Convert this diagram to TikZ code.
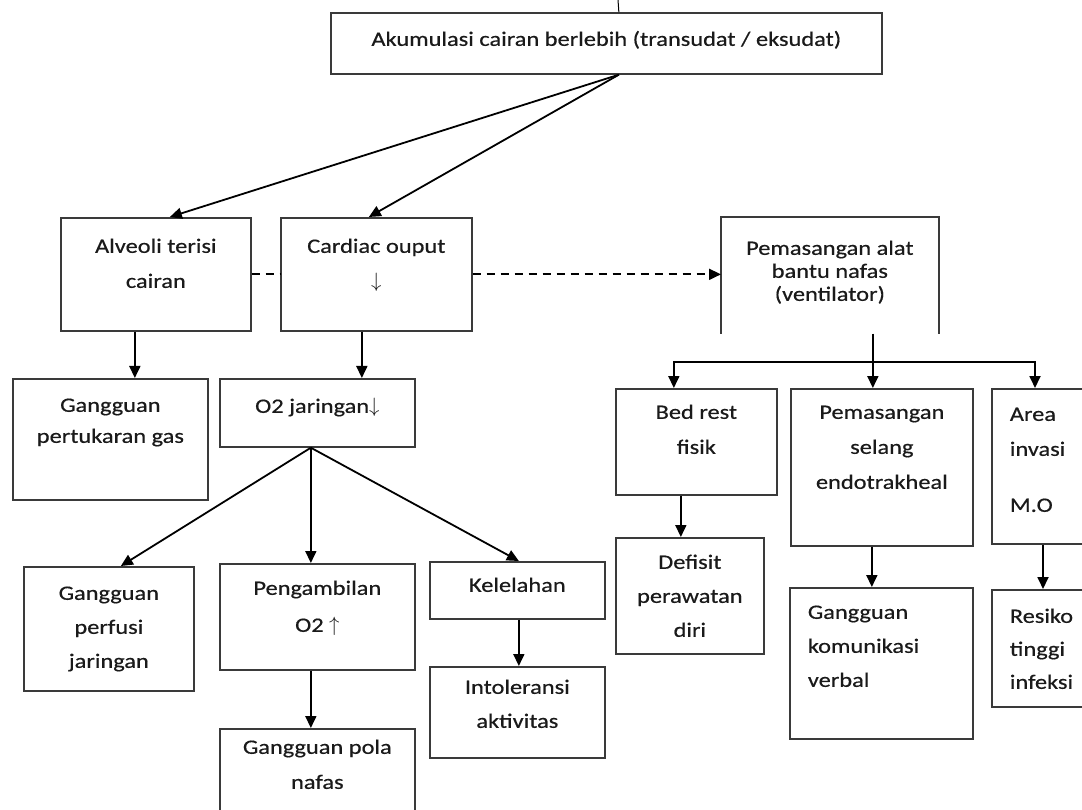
\documentclass[tikz,border=0pt]{standalone}
\usepackage{fontspec}
\setmainfont{Carlito}[FakeStretch=1.19,FakeBold=0.5]
\usetikzlibrary{arrows.meta}
\definecolor{garis}{HTML}{3A3A3A}
\definecolor{teks}{HTML}{1A1A1A}
\begin{document}
\begin{tikzpicture}[x=1pt,y=-1pt,
  kotak/.style={draw=garis,line width=1.7pt,inner sep=0pt,anchor=north west,
    align=center,text=teks,font=\fontsize{20.5}{35}\selectfont},
  kiri/.style={align=left,inner xsep=18pt},
  panah/.style={-{Triangle[length=12pt,width=11pt]},line width=1.8pt},
  putus/.style={line width=1.8pt,dash pattern=on 8pt off 6pt}]
\useasboundingbox (0,0) rectangle (1082,810);
\clip (0,0) rectangle (1082,810);

% Drawing box Akumulasi
\node [kotak,minimum width=551,text height=33,text depth=28] (akumulasi) at (330,12)
  {Akumulasi cairan berlebih (transudat / eksudat)};%
\coordinate (atas) at (618,0);
\draw [line width=1pt] ([xshift=12.5]akumulasi.north) -- (atas);%

% Drawing boxes of row two
\node [kotak,minimum width=190,text height=70,text depth=43] (alveoli) at (60,217)
  {Alveoli terisi\\cairan};%
\node [kotak,minimum width=191,text height=70,text depth=43] (cardiac) at (280,217)
  {Cardiac ouput\\$\downarrow$};%
\node [kotak,draw=none,minimum width=216,text height=83,text depth=32,
  font=\fontsize{20.5}{23}\selectfont] (pasang) at (721,217)
  {Pemasangan alat\\bantu nafas\\(ventilator)};%
\draw [garis,line width=1.7pt] (pasang.south west) -- (pasang.north west)
  -- (pasang.north east) -- (pasang.south east);%

% Drawing boxes of row three
\node [kotak,minimum width=195,text height=64,text depth=57,
  font=\fontsize{20.5}{31}\selectfont] (tukar) at (12,378)
  {Gangguan\\pertukaran gas};%
\node [kotak,minimum width=195,text height=34,text depth=34] (jaringan) at (219,378)
  {O2 jaringan$\downarrow$};%
\node [kotak,minimum width=161,text height=65,text depth=41] (bedrest) at (615,388)
  {Bed rest\\fisik};%
\node [kotak,minimum width=182,text height=100,text depth=57] (selang) at (790,388)
  {Pemasangan\\selang\\endotrakheal};%
\node [kotak,kiri,text width=200,text height=32,text depth=123] (area) at (991,388)
  {Area\\invasi\\[21pt]M.O};%

% Drawing boxes of row four
\node [kotak,minimum width=170,text height=101,text depth=23,
  font=\fontsize{20.5}{34}\selectfont] (perfusi) at (23,566)
  {Gangguan\\perfusi\\jaringan};%
\node [kotak,minimum width=195,text height=68,text depth=38,
  font=\fontsize{20.5}{37}\selectfont] (ambil) at (219,563)
  {Pengambilan\\O2 $\uparrow$};%
\node [kotak,minimum width=175,text height=30,text depth=27] (lelah) at (429,561)
  {Kelelahan};%
\node [kotak,minimum width=148,text height=99,text depth=17,
  font=\fontsize{20.5}{34}\selectfont] (defisit) at (615,537)
  {Defisit\\perawatan\\diri};%
\node [kotak,kiri,text width=147,text height=31,text depth=120,
  font=\fontsize{20.5}{34}\selectfont] (verbal) at (789,587)
  {Gangguan\\komunikasi\\verbal};%
\node [kotak,kiri,text width=200,text height=33,text depth=84,
  font=\fontsize{20.5}{33}\selectfont] (infeksi) at (991,589)
  {Resiko\\tinggi\\infeksi};%

% Drawing boxes of row five
\node [kotak,minimum width=175,text height=61,text depth=30,
  font=\fontsize{20.5}{34}\selectfont] (intoleransi) at (429,666)
  {Intoleransi\\aktivitas};%
\node [kotak,minimum width=195,text height=60,text depth=75] (pola) at (219,728)
  {Gangguan pola\\nafas};%

% Drawing arrows from Akumulasi
\draw [panah] ([xshift=12.5]akumulasi.south) -- ([xshift=14]alveoli.north);%
\draw [panah] ([xshift=12.5]akumulasi.south) -- ([xshift=-7.5]cardiac.north);%

% Drawing dashed links
\draw [putus] (alveoli.east) -- (cardiac.west);%
\draw [putus,-{Triangle[length=12pt,width=11pt]}] (cardiac.east) -- (cardiac.east -| pasang.west);%

% Drawing arrows down on the left
\draw [panah] ([xshift=-21]alveoli.south) -- ([xshift=-21]alveoli.south |- tukar.north);%
\draw [panah] ([xshift=-14.5]cardiac.south) -- ([xshift=-14.5]cardiac.south |- jaringan.north);%
\draw [panah] ([xshift=-6.5]jaringan.south) -- ([xshift=12]perfusi.north);%
\draw [panah] ([xshift=-6.5]jaringan.south) -- ([xshift=-6.5]jaringan.south |- ambil.north);%
\draw [panah] ([xshift=-6.5]jaringan.south) -- ([xshift=1.5]lelah.north);%
\draw [panah] ([xshift=-6.5]ambil.south) -- ([xshift=-6.5]ambil.south |- pola.north);%
\draw [panah] ([xshift=1.5]lelah.south) -- ([xshift=1.5]lelah.south |- intoleransi.north);%

% Drawing arrows down on the right
\coordinate (bagi) at (872,362);
\draw [panah] ([xshift=43]pasang.south) -- ([xshift=43]pasang.south |- selang.north);%
\draw [panah] (bagi) -| ([xshift=-22.5]bedrest.north);%
\draw [panah] (bagi) -| ([xshift=44]area.north west);%
\draw [panah] ([xshift=-15.5]bedrest.south) -- ([xshift=-15.5]bedrest.south |- defisit.north);%
\draw [panah] ([xshift=-10]selang.south) -- ([xshift=-10]selang.south |- verbal.north);%
\draw [panah] ([xshift=52]area.south west) -- ([xshift=52]area.south west |- infeksi.north);%
\end{tikzpicture}
\end{document}
